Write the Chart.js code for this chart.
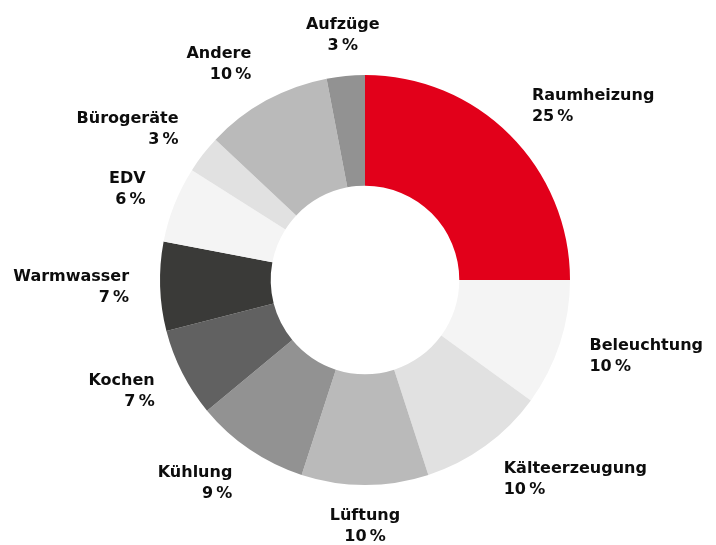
<!DOCTYPE html>
<html>
<head>
<meta charset="utf-8">
<script src="https://cdn.jsdelivr.net/npm/chart.js@4.4.1/dist/chart.umd.min.js"></script>
<style>
  html, body { margin: 0; padding: 0; background: #fff; }
  canvas { display: block; }
</style>
</head>
<body>
<canvas id="donut" width="716" height="545"></canvas>
<script>
const labels = ['Raumheizung', 'Beleuchtung', 'Kälteerzeugung', 'Lüftung', 'Kühlung', 'Kochen',
                'Warmwasser', 'EDV', 'Bürogeräte', 'Andere', 'Aufzüge'];
const shares = [25, 10, 10, 10, 9, 7, 7, 6, 3, 10, 3];
const colors = ['#e2001a', '#f4f4f4', '#e1e1e1', '#bababa', '#929292', '#616161',
                '#3a3a38', '#f4f4f4', '#e1e1e1', '#bababa', '#929292'];

// two-line labels placed just outside each slice
const outerLabels = {
    id: 'outerLabels',
    afterDatasetsDraw(chart) {
        const ctx = chart.ctx;
        const meta = chart.getDatasetMeta(0);
        const lineH = 21;
        ctx.save();
        ctx.font = 'bold 16px "DejaVu Sans", sans-serif';
        ctx.fillStyle = '#0d0d0d';
        ctx.textBaseline = 'middle';
        meta.data.forEach((arc, i) => {
            const mid = (arc.startAngle + arc.endAngle) / 2;
            const dx = Math.cos(mid), dy = Math.sin(mid);
            const x = arc.x + dx * (arc.outerRadius + 31);
            const y = arc.y + dy * (arc.outerRadius + 20) + dy * lineH;
            if (Math.abs(dx) < 0.2) ctx.textAlign = 'center';
            else ctx.textAlign = dx > 0 ? 'left' : 'right';
            ctx.fillText(labels[i], x, y - lineH / 2);
            ctx.fillText(shares[i] + '\u2009%', x, y + lineH / 2);
        });
        ctx.restore();
    }
};

new Chart(document.getElementById('donut').getContext('2d'), {
    type: 'doughnut',
    data: {
        labels: labels,
        datasets: [{
            data: shares,
            backgroundColor: colors,
            borderWidth: 0
        }]
    },
    options: {
        responsive: false,
        animation: false,
        cutout: '46%',
        layout: { padding: { top: 75, bottom: 60, left: 14, right: 0 } },
        plugins: {
            legend: { display: false },
            tooltip: { enabled: false }
        }
    },
    plugins: [outerLabels]
});
</script>
</body>
</html>
